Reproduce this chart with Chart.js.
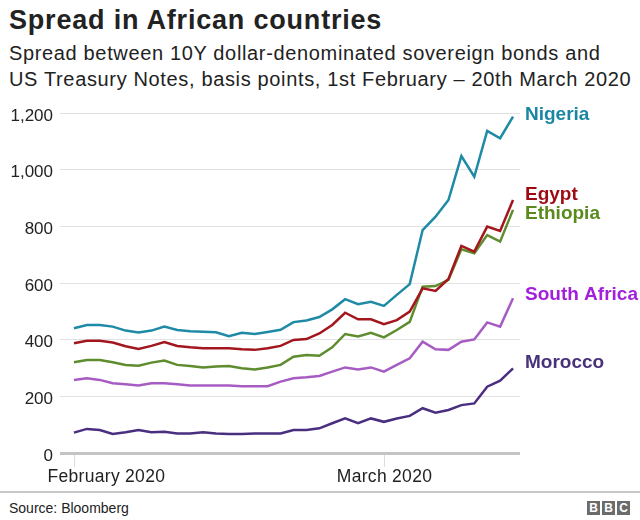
<!DOCTYPE html>
<html>
<head>
<meta charset="utf-8">
<script src="https://cdn.jsdelivr.net/npm/chart.js@4.4.1/dist/chart.umd.min.js"></script>
<style>
  body { margin: 0; width: 640px; height: 520px; background: #fff; position: relative; overflow: hidden;
         font-family: "Liberation Sans", Arial, Helvetica, sans-serif; color: #222; }
  #title { position: absolute; left: 9px; top: 4px; font-size: 27px; font-weight: bold; line-height: 32px;
           letter-spacing: 0.8px; white-space: nowrap; }
  #subtitle { position: absolute; left: 9px; top: 40px; font-size: 20px; line-height: 26px;
              letter-spacing: 0.65px; white-space: nowrap; }
  #wrap { position: absolute; left: 0; top: 95px; width: 640px; height: 395px; }
  #rule { position: absolute; left: 0; top: 491px; width: 640px; height: 2px; background: #c8c8c8; }
  #source { position: absolute; left: 9px; top: 500px; font-size: 14px; line-height: 16px; }
  #bbc { position: absolute; left: 587px; top: 501px; display: flex; gap: 2px; }
  #bbc span { width: 13px; height: 14px; background: #6b6b6b; color: #fff; font-weight: bold;
              font-size: 12px; line-height: 14px; text-align: center; }
</style>
</head>
<body>
<div id="title">Spread in African countries</div>
<div id="subtitle">Spread between 10Y dollar-denominated sovereign bonds and<br>US Treasury Notes, basis points, 1st February – 20th March 2020</div>
<div id="wrap"><canvas id="chart" width="640" height="395"></canvas></div>
<div id="rule"></div>
<div id="source">Source: Bloomberg</div>
<div id="bbc"><span>B</span><span>B</span><span>C</span></div>

<script>
// trading days, 3 Feb - 20 Mar 2020
const days = ['3 Feb', '4 Feb', '5 Feb', '6 Feb', '7 Feb', '10 Feb', '11 Feb', '12 Feb', '13 Feb', '14 Feb',
  '17 Feb', '18 Feb', '19 Feb', '20 Feb', '21 Feb', '24 Feb', '25 Feb', '26 Feb', '27 Feb', '28 Feb',
  '2 Mar', '3 Mar', '4 Mar', '5 Mar', '6 Mar', '9 Mar', '10 Mar', '11 Mar', '12 Mar', '13 Mar',
  '16 Mar', '17 Mar', '18 Mar', '19 Mar', '20 Mar'];

const nigeria = [440, 452, 452, 446, 432, 425, 432, 446, 434, 430, 428, 426, 412, 424, 420, 427, 435, 462, 468, 480,
  507, 543, 525, 534, 519, 558, 596, 787, 834, 893, 1048, 975, 1137, 1111, 1187];
const egypt = [387, 396, 396, 390, 377, 367, 378, 392, 378, 373, 370, 370, 370, 366, 364, 370, 378, 399, 402, 422,
  452, 495, 472, 472, 455, 469, 499, 581, 572, 614, 731, 711, 799, 784, 893];
const ethiopia = [320, 328, 328, 320, 311, 308, 319, 326, 311, 307, 302, 305, 307, 299, 295, 302, 311, 340, 346, 343,
  373, 420, 411, 424, 408, 434, 463, 587, 589, 611, 719, 705, 769, 746, 858];
const southAfrica = [258, 264, 258, 246, 243, 238, 246, 246, 243, 238, 238, 238, 238, 236, 236, 236, 252, 264, 267, 272,
  287, 302, 295, 302, 287, 311, 334, 393, 366, 364, 393, 401, 461, 446, 546];
const morocco = [72, 85, 81, 67, 73, 81, 73, 75, 69, 69, 73, 69, 67, 67, 69, 69, 69, 81, 81, 87,
  105, 122, 105, 122, 110, 122, 131, 158, 142, 152, 169, 175, 234, 255, 299];

const yTicks = [0, 200, 400, 600, 800, 1000, 1200];
const xTickLabels = ['February 2020', 'March 2020'];
const xTickAt = [0, 24];

const font = '"Liberation Sans", Arial, Helvetica, sans-serif';

const series = [
  { name: 'Nigeria', data: nigeria, line: '#1f8aa6', text: '#1b86a4', labelAt: 1193 },
  { name: 'Egypt', data: egypt, line: '#a3161d', text: '#9e0a12', labelAt: 911 },
  { name: 'Ethiopia', data: ethiopia, line: '#5e8c2e', text: '#5a8a1c', labelAt: 844 },
  { name: 'South Africa', data: southAfrica, line: '#a65cc2', text: '#a31fdc', labelAt: 558 },
  { name: 'Morocco', data: morocco, line: '#4a2e80', text: '#48327a', labelAt: 318 }
];

const annotate = {
  id: 'annotate',
  afterDraw: function (chart) {
    const ctx = chart.ctx, area = chart.chartArea;
    const x = chart.scales.x, y = chart.scales.y;
    ctx.save();
    ctx.textBaseline = 'middle';
    ctx.font = '17.5px ' + font;
    ctx.letterSpacing = '0.3px';
    xTickAt.forEach(function (idx, k) {
      const px = Math.round(x.getPixelForValue(idx)) + 0.5;
      ctx.strokeStyle = '#dcdcdc';
      ctx.lineWidth = 1;
      ctx.beginPath();
      ctx.moveTo(px, area.bottom + 2);
      ctx.lineTo(px, area.bottom + 14);
      ctx.stroke();
      ctx.fillStyle = '#222';
      ctx.textAlign = k === 0 ? 'left' : 'center';
      ctx.fillText(xTickLabels[k], k === 0 ? px - 27 : px, area.bottom + 24);
    });
    ctx.font = 'bold 19px ' + font;
    ctx.letterSpacing = '0px';
    ctx.textAlign = 'left';
    series.forEach(function (s) {
      ctx.fillStyle = s.text;
      ctx.fillText(s.name, area.right + 5, y.getPixelForValue(s.labelAt));
    });
    ctx.restore();
  }
};

new Chart(document.getElementById('chart'), {
  type: 'line',
  data: {
    labels: days,
    datasets: series.map(function (s) {
      return {
        label: s.name,
        data: s.data.map(function (v, i) { return { x: i, y: v }; }),
        borderColor: s.line,
        borderWidth: 2.5,
        pointRadius: 0,
        tension: 0,
        fill: false
      };
    })
  },
  options: {
    responsive: false,
    animation: false,
    devicePixelRatio: 1,
    layout: { padding: { top: 18, right: 120, bottom: 37, left: 0 } },
    plugins: { legend: { display: false }, tooltip: { enabled: false } },
    scales: {
      x: { type: 'linear', min: -1.08, max: 34.54, display: false },
      y: {
        min: 0,
        max: 1200,
        afterFit: function (s) { s.width = 60; },
        afterBuildTicks: function (s) { s.ticks = yTicks.map(function (v) { return { value: v }; }); },
        ticks: {
          font: { size: 17, family: font },
          color: '#222',
          padding: 7,
          labelOffset: 3,
          callback: function (v) { return v.toLocaleString('en-US'); }
        },
        grid: {
          drawTicks: false,
          color: function (c) { return c.tick && c.tick.value === 0 ? '#c4c4c4' : '#e2e2e2'; },
          lineWidth: function (c) { return c.tick && c.tick.value === 0 ? 3 : 1; }
        },
        border: { display: false }
      }
    }
  },
  plugins: [annotate]
});
</script>
</body>
</html>
